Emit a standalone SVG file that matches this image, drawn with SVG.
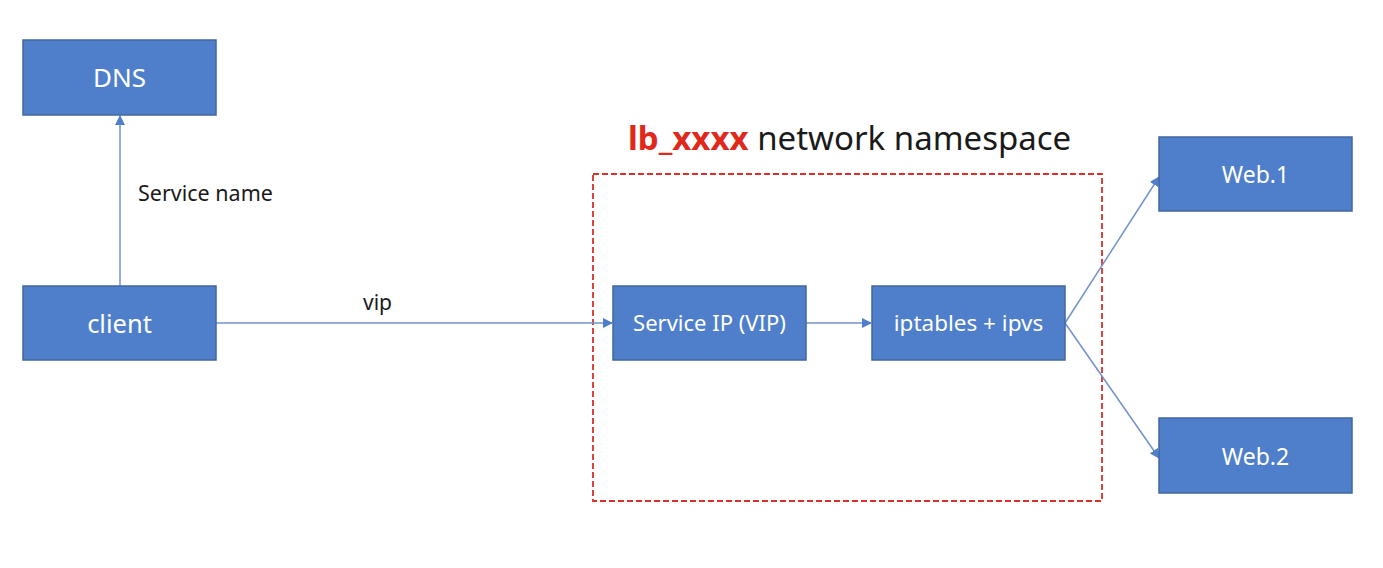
<svg xmlns="http://www.w3.org/2000/svg" width="1383" height="568" viewBox="0 0 1383 568">
<style>
.box{fill:#4F7FCB;stroke:#41679F;stroke-width:1.5}
.lbl{fill:#ffffff;font-family:"Noto Sans","Open Sans",sans-serif;text-anchor:middle}
.edge{stroke:#7093CC;stroke-width:1.5;fill:none}
.txt{font-family:"Noto Sans","Open Sans",sans-serif;fill:#1a1a1a}
</style>
<defs>
<marker id="arr" markerWidth="10" markerHeight="10" refX="9" refY="5" orient="auto" markerUnits="userSpaceOnUse">
<path d="M0,0 L10,5 L0,10 Z" fill="#4F7FCB"/>
</marker>
</defs>
<rect width="1383" height="568" fill="#ffffff"/>
<g id="namespace">
<rect x="593" y="174" width="509" height="327" fill="none" stroke="#D9302A" stroke-width="1.8" stroke-dasharray="6,3"/>
<text x="628" y="150" class="txt" font-size="33"><tspan fill="#E0281C" font-weight="bold">lb_xxxx</tspan> network namespace</text>
</g>
<g id="connectors">
<line class="edge" x1="120" y1="286" x2="120" y2="116" marker-end="url(#arr)"/>
<line class="edge" x1="216" y1="323" x2="612" y2="323" marker-end="url(#arr)"/>
<line class="edge" x1="806" y1="323" x2="871" y2="323" marker-end="url(#arr)"/>
<line class="edge" x1="1065" y1="323" x2="1159" y2="177" marker-end="url(#arr)"/>
<line class="edge" x1="1065" y1="323" x2="1159" y2="458" marker-end="url(#arr)"/>
<text x="138" y="201" class="txt" font-size="21.5">Service name</text>
<text x="363" y="310" class="txt" font-size="21">vip</text>
</g>
<g id="dns"><rect class="box" x="23" y="40" width="193" height="75"/><text class="lbl" x="119.5" y="87" font-size="26">DNS</text></g>
<g id="client"><rect class="box" x="23" y="286" width="193" height="74"/><text class="lbl" x="119.5" y="333" font-size="25.5">client</text></g>
<g id="serviceip"><rect class="box" x="613" y="286" width="193" height="74"/><text class="lbl" x="709.5" y="331" font-size="22">Service IP (VIP)</text></g>
<g id="iptables"><rect class="box" x="872" y="286" width="193" height="74"/><text class="lbl" x="968.5" y="331" font-size="22.5">iptables + ipvs</text></g>
<g id="web1"><rect class="box" x="1159" y="137" width="193" height="74"/><text class="lbl" x="1255.5" y="183" font-size="23">Web.1</text></g>
<g id="web2"><rect class="box" x="1159" y="418" width="193" height="75"/><text class="lbl" x="1255.5" y="465" font-size="23">Web.2</text></g>
</svg>
